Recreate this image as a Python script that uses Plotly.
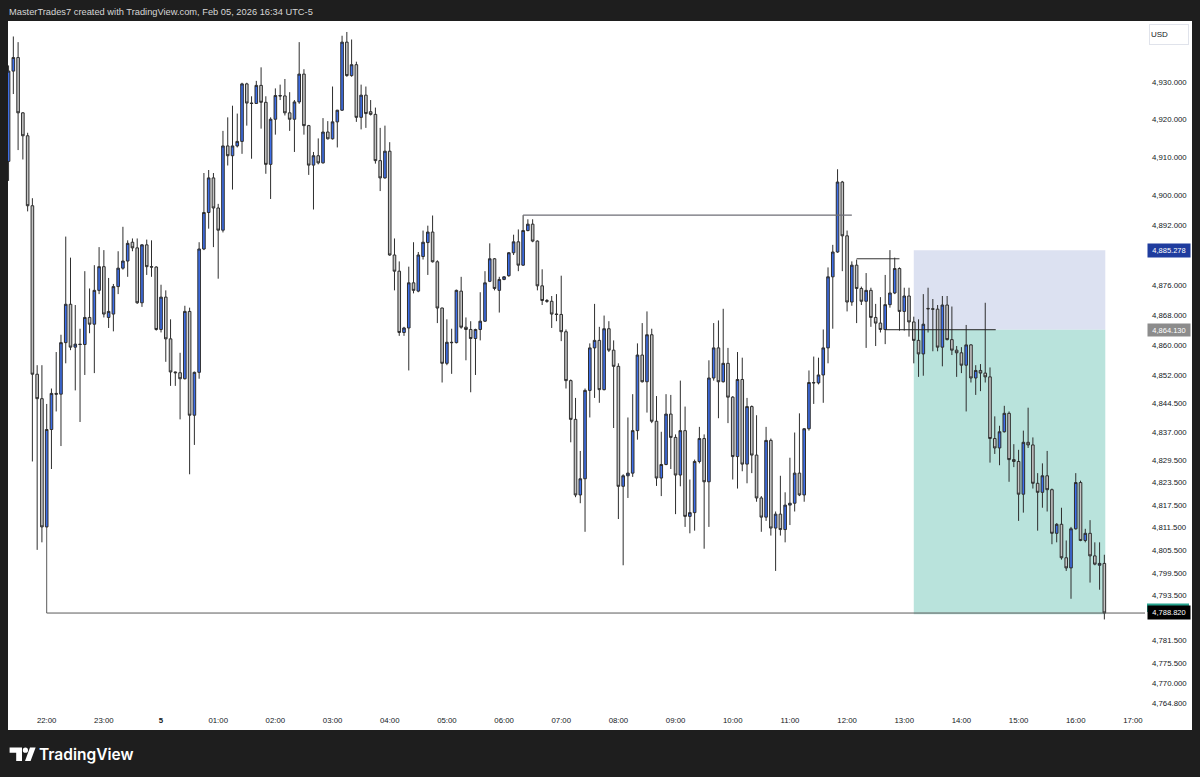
import pandas as pd
import plotly.graph_objects as go

# ---------------- data (5-minute XAUUSD-style candles) ----------------
start_time = "2026-02-04 21:20"
n_candles = 231

opens = [
    4908.9, 4932.9, 4936.5, 4921.8, 4915.7, 4897.1, 4852.3, 4845.8, 4811.7, 4837.6,
    4847.2, 4847.0, 4860.7, 4870.9, 4859.5, 4860.3, 4860.2, 4867.4, 4865.6, 4874.6,
    4880.9, 4867.4, 4868.3, 4875.6, 4880.5, 4882.4, 4887.4, 4885.9, 4871.3, 4886.7,
    4880.9, 4880.8, 4864.2, 4872.8, 4861.7, 4852.9, 4852.7, 4851.1, 4869.0, 4841.4,
    4852.8, 4885.6, 4895.3, 4904.5, 4896.5, 4890.6, 4913.0, 4910.4, 4913.0, 4914.2,
    4929.5, 4924.4, 4924.3, 4929.1, 4924.6, 4908.1, 4920.1, 4926.4, 4926.3, 4921.8,
    4920.1, 4924.7, 4932.1, 4918.4, 4907.9, 4910.4, 4908.5, 4916.7, 4914.9, 4919.4,
    4922.5, 4940.6, 4931.7, 4934.6, 4920.6, 4926.5, 4922.1, 4921.4, 4909.1, 4904.5,
    4911.6, 4884.0, 4879.7, 4863.4, 4864.6, 4876.6, 4874.4, 4883.6, 4887.3, 4890.1,
    4882.2, 4869.9, 4855.2, 4860.8, 4860.7, 4874.4, 4864.8, 4864.2, 4861.8, 4864.2,
    4866.4, 4877.0, 4883.0, 4874.6, 4877.5, 4878.5, 4884.6, 4887.5, 4881.3, 4890.5,
    4892.2, 4887.7, 4875.8, 4871.9, 4871.7, 4868.3, 4868.2, 4863.6, 4850.6, 4840.3,
    4820.2, 4824.5, 4848.0, 4859.3, 4861.3, 4848.2, 4864.4, 4858.7, 4854.4, 4822.5,
    4825.3, 4826.0, 4837.3, 4857.4, 4850.3, 4862.8, 4839.8, 4824.7, 4828.3, 4841.7,
    4835.5, 4825.5, 4837.3, 4814.5, 4815.5, 4829.1, 4835.2, 4823.7, 4851.3, 4859.3,
    4850.3, 4855.2, 4846.2, 4830.4, 4850.9, 4828.4, 4843.7, 4830.8, 4819.4, 4814.3,
    4834.7, 4811.4, 4815.1, 4811.0, 4817.5, 4818.0, 4826.0, 4820.2, 4837.8, 4850.1,
    4850.0, 4852.1, 4859.3, 4878.2, 4884.8, 4903.4, 4889.1, 4871.5, 4881.3, 4875.1,
    4871.7, 4874.6, 4867.4, 4865.9, 4864.2, 4870.8, 4873.9, 4880.4, 4869.0, 4873.1,
    4866.2, 4861.3, 4857.7, 4869.8, 4869.7, 4869.6, 4859.5, 4870.7, 4861.5, 4858.7,
    4858.0, 4854.7, 4860.1, 4851.3, 4853.3, 4852.6, 4851.6, 4835.2, 4832.7, 4837.0,
    4841.9, 4829.6, 4829.1, 4820.4, 4834.2, 4833.5, 4823.3, 4820.9, 4825.3, 4821.6,
    4810.0, 4812.4, 4803.5, 4800.8, 4811.2, 4823.5, 4808.1, 4810.0, 4804.0, 4801.5, 4802.0,
]

highs = [
    4934.4, 4942.1, 4940.6, 4922.0, 4916.5, 4899.1, 4854.7, 4854.7, 4844.4, 4848.5,
    4858.2, 4862.8, 4888.9, 4883.3, 4870.7, 4864.4, 4879.7, 4875.1, 4881.3, 4886.1,
    4885.3, 4877.9, 4876.3, 4885.0, 4891.5, 4887.9, 4888.4, 4888.4, 4886.9, 4888.1,
    4887.9, 4881.0, 4876.1, 4874.6, 4866.9, 4853.0, 4858.0, 4870.5, 4870.0, 4853.0,
    4887.4, 4905.8, 4906.6, 4905.8, 4897.6, 4917.0, 4920.6, 4923.7, 4921.6, 4929.8,
    4929.8, 4926.2, 4930.3, 4933.9, 4926.2, 4920.6, 4928.3, 4929.3, 4930.8, 4927.3,
    4925.2, 4940.6, 4933.4, 4918.6, 4911.4, 4915.0, 4920.4, 4919.6, 4928.8, 4922.6,
    4942.3, 4943.3, 4941.3, 4935.4, 4929.3, 4928.8, 4925.2, 4923.2, 4917.8, 4918.4,
    4914.0, 4888.4, 4882.3, 4864.9, 4880.9, 4887.4, 4884.8, 4890.5, 4891.8, 4894.5,
    4882.6, 4870.0, 4866.9, 4864.4, 4874.8, 4878.2, 4867.4, 4866.4, 4864.4, 4874.1,
    4879.7, 4887.1, 4883.2, 4878.2, 4878.4, 4884.8, 4889.4, 4890.8, 4894.6, 4893.5,
    4893.5, 4887.9, 4880.2, 4872.3, 4873.1, 4873.6, 4878.5, 4864.2, 4850.9, 4846.0,
    4831.9, 4848.5, 4860.5, 4871.0, 4864.9, 4867.9, 4866.4, 4861.3, 4855.2, 4825.7,
    4840.8, 4847.0, 4860.5, 4865.9, 4869.0, 4864.4, 4846.5, 4837.0, 4847.0, 4846.8,
    4836.3, 4850.6, 4843.7, 4824.3, 4829.6, 4838.3, 4836.3, 4856.0, 4865.9, 4866.6,
    4869.7, 4859.3, 4846.5, 4858.2, 4856.7, 4846.0, 4844.0, 4841.4, 4819.9, 4838.3,
    4835.2, 4815.8, 4825.3, 4820.9, 4830.1, 4836.8, 4841.9, 4838.0, 4853.3, 4857.0,
    4856.7, 4864.2, 4880.7, 4886.7, 4906.8, 4903.7, 4890.5, 4882.3, 4882.8, 4875.6,
    4879.2, 4875.3, 4871.0, 4872.8, 4878.7, 4885.3, 4883.3, 4880.7, 4875.3, 4875.3,
    4867.6, 4866.9, 4873.6, 4875.3, 4872.3, 4870.7, 4873.1, 4873.1, 4870.3, 4859.8,
    4859.5, 4865.4, 4860.3, 4854.7, 4855.0, 4871.3, 4854.1, 4841.1, 4838.6, 4843.9,
    4842.4, 4833.7, 4832.2, 4837.3, 4843.4, 4835.5, 4826.0, 4828.6, 4831.9, 4821.9,
    4812.7, 4816.8, 4808.1, 4811.7, 4826.0, 4824.0, 4811.2, 4813.5, 4807.6, 4807.6, 4804.3,
]

lows = [
    4903.7, 4926.8, 4911.9, 4909.4, 4895.6, 4829.1, 4805.6, 4807.6, 4811.5, 4827.1,
    4842.4, 4833.2, 4855.2, 4858.7, 4848.0, 4839.6, 4852.1, 4863.2, 4852.6, 4873.6,
    4867.4, 4864.6, 4863.7, 4873.6, 4880.1, 4878.2, 4885.0, 4871.0, 4870.2, 4878.7,
    4878.2, 4863.9, 4863.4, 4855.6, 4849.2, 4849.2, 4840.3, 4850.9, 4825.7, 4833.5,
    4851.1, 4885.3, 4891.0, 4886.1, 4877.7, 4890.0, 4907.8, 4901.4, 4912.6, 4910.9,
    4918.4, 4909.6, 4924.2, 4917.6, 4905.6, 4898.9, 4916.0, 4925.2, 4921.1, 4917.0,
    4911.4, 4924.2, 4916.0, 4905.3, 4896.1, 4908.1, 4908.3, 4914.7, 4914.7, 4912.6,
    4922.3, 4931.4, 4931.4, 4919.4, 4917.4, 4917.8, 4921.1, 4908.3, 4901.0, 4904.3,
    4883.8, 4874.6, 4862.5, 4862.5, 4853.3, 4873.8, 4874.1, 4882.8, 4878.7, 4882.0,
    4865.9, 4850.1, 4854.7, 4852.4, 4860.5, 4864.4, 4856.0, 4847.5, 4852.1, 4861.3,
    4866.2, 4876.8, 4874.6, 4868.7, 4877.3, 4878.2, 4884.0, 4879.7, 4881.1, 4890.3,
    4887.4, 4874.6, 4870.7, 4871.3, 4864.6, 4866.4, 4861.1, 4848.5, 4834.2, 4819.6,
    4818.0, 4810.4, 4840.8, 4846.0, 4844.7, 4848.0, 4858.2, 4838.0, 4813.8, 4801.5,
    4819.4, 4825.0, 4834.9, 4850.1, 4842.1, 4839.3, 4822.6, 4819.9, 4828.1, 4827.1,
    4815.1, 4822.5, 4811.7, 4810.0, 4810.7, 4828.6, 4805.9, 4811.7, 4850.6, 4840.6,
    4850.1, 4839.3, 4824.3, 4821.9, 4826.5, 4823.3, 4826.0, 4818.4, 4810.4, 4813.3,
    4809.4, 4800.0, 4809.4, 4807.6, 4812.2, 4815.8, 4819.9, 4818.4, 4837.3, 4844.4,
    4849.6, 4844.7, 4855.2, 4864.4, 4884.6, 4879.7, 4869.0, 4870.5, 4865.9, 4870.7,
    4859.3, 4864.9, 4859.8, 4863.4, 4860.3, 4870.0, 4873.6, 4863.9, 4863.9, 4862.3,
    4855.2, 4851.6, 4851.9, 4863.4, 4858.4, 4858.4, 4854.4, 4861.3, 4857.4, 4851.6,
    4852.6, 4842.4, 4850.1, 4846.8, 4847.8, 4850.1, 4828.8, 4831.1, 4828.1, 4836.8,
    4823.7, 4827.6, 4813.3, 4815.5, 4832.7, 4821.9, 4810.7, 4816.8, 4815.8, 4807.1,
    4807.6, 4803.0, 4800.0, 4792.6, 4811.0, 4807.9, 4807.6, 4796.9, 4801.5, 4795.0, 4787.1,
]

closes = [
    4932.9, 4936.5, 4921.8, 4915.7, 4897.1, 4852.3, 4845.8, 4811.7, 4837.6, 4847.2,
    4847.0, 4860.7, 4870.9, 4859.5, 4860.3, 4860.2, 4867.4, 4865.6, 4874.6, 4880.9,
    4868.3, 4869.0, 4875.6, 4880.5, 4882.4, 4887.1, 4885.9, 4871.3, 4886.7, 4880.9,
    4880.8, 4864.2, 4872.8, 4861.7, 4852.9, 4852.7, 4851.1, 4869.0, 4841.4, 4852.8,
    4885.6, 4895.3, 4904.5, 4896.5, 4890.6, 4913.0, 4910.4, 4913.0, 4914.2, 4929.5,
    4924.4, 4924.3, 4929.1, 4924.6, 4908.1, 4920.1, 4926.4, 4926.3, 4921.8, 4920.1,
    4924.7, 4932.1, 4918.4, 4907.9, 4910.4, 4908.5, 4916.7, 4914.9, 4919.4, 4922.5,
    4940.6, 4931.7, 4934.6, 4920.6, 4926.5, 4921.6, 4921.4, 4909.1, 4904.5, 4911.6,
    4884.0, 4879.7, 4863.4, 4864.6, 4876.6, 4874.6, 4884.0, 4887.4, 4890.1, 4882.2,
    4869.9, 4855.2, 4860.8, 4860.7, 4874.6, 4864.8, 4864.2, 4861.8, 4864.2, 4866.4,
    4876.6, 4883.0, 4875.1, 4877.5, 4878.2, 4884.6, 4887.5, 4881.3, 4890.5, 4892.2,
    4887.7, 4875.8, 4871.9, 4871.7, 4868.3, 4868.2, 4863.6, 4850.6, 4840.3, 4820.2,
    4824.5, 4848.0, 4859.3, 4861.3, 4848.2, 4864.4, 4858.7, 4854.4, 4822.5, 4825.3,
    4826.0, 4837.3, 4857.4, 4850.3, 4862.8, 4839.8, 4824.7, 4828.3, 4841.7, 4835.5,
    4825.5, 4837.3, 4814.5, 4815.5, 4829.1, 4835.2, 4823.7, 4851.3, 4859.3, 4850.3,
    4855.2, 4846.2, 4830.4, 4850.9, 4828.4, 4843.7, 4830.8, 4819.4, 4814.3, 4834.7,
    4811.4, 4815.1, 4811.0, 4817.5, 4818.0, 4826.0, 4820.2, 4837.8, 4850.1, 4850.0,
    4852.1, 4859.3, 4878.2, 4884.8, 4903.4, 4889.1, 4871.5, 4881.3, 4875.1, 4871.7,
    4874.6, 4867.4, 4865.9, 4864.2, 4870.8, 4873.9, 4880.4, 4869.0, 4873.1, 4866.2,
    4861.3, 4857.7, 4865.6, 4869.7, 4869.6, 4859.5, 4870.7, 4861.5, 4858.7, 4858.0,
    4854.7, 4860.1, 4851.3, 4853.3, 4852.6, 4851.6, 4835.2, 4832.7, 4837.0, 4841.9,
    4829.6, 4829.1, 4820.4, 4834.2, 4833.5, 4823.3, 4820.9, 4825.3, 4821.6, 4810.0,
    4812.4, 4803.5, 4800.8, 4811.2, 4823.5, 4808.1, 4810.0, 4804.0, 4801.8, 4802.0, 4788.82,
]

# price-axis tick labels
y_ticks = [4930, 4920, 4910, 4900, 4892, 4876, 4868, 4860, 4852, 4844.5, 4837,
           4829.5, 4823.5, 4817.5, 4811.5, 4805.5, 4799.5, 4793.5, 4781.5,
           4775.5, 4770, 4764.8]
x_tick_labels = ["22:00", "23:00", "<b>5</b>", "01:00", "02:00", "03:00", "04:00",
                 "05:00", "06:00", "07:00", "08:00", "09:00", "10:00", "11:00",
                 "12:00", "13:00", "14:00", "15:00", "16:00", "17:00"]

# short-position tool
pos_start, pos_end = "2026-02-05 13:10", "2026-02-05 16:31"
stop_price = 4885.278
entry_price = 4864.130
target_price = 4788.5
last_price = closes[-1]

# drawn lines
level_low_start = 4811.7      # vertical leg of bottom line
level_low = 4788.8
level_high = 4894.6
level_mid = 4883.0

times = pd.date_range(start_time, periods=n_candles, freq="5min")
hour_ticks = pd.date_range("2026-02-04 22:00", "2026-02-05 17:00", freq="h")

# ---------------- layout geometry (pixels) ----------------
W, H = 1200, 777
L, R, T, B = 8, 1145, 21, 710


def px(x):
    return (x - L) / (R - L)


def py(y):
    return (B - y) / (B - T)


x_range = ["2026-02-04 21:19:24", "2026-02-05 17:12:40"]
y_range = [4763.02, 4946.22]

fig = go.Figure()

fig.add_trace(go.Candlestick(
    x=times, open=opens, high=highs, low=lows, close=closes,
    increasing=dict(fillcolor="#3d6ee8", line=dict(color="#2e2e2e", width=1)),
    decreasing=dict(fillcolor="#c4c4c4", line=dict(color="#2e2e2e", width=1)),
    whiskerwidth=0, hoverinfo="skip", showlegend=False,
))

shapes = []
# white chart panel (incl. axes areas)
shapes.append(dict(type="rect", xref="paper", yref="paper", layer="below",
                   x0=px(8), x1=px(1192), y0=py(730), y1=py(21),
                   fillcolor="white", line=dict(width=0)))
# position tool
shapes.append(dict(type="rect", xref="x", yref="y", layer="below",
                   x0=pos_start, x1=pos_end, y0=entry_price, y1=stop_price,
                   fillcolor="rgb(220,225,241)", line=dict(width=0)))
shapes.append(dict(type="rect", xref="x", yref="y", layer="below",
                   x0=pos_start, x1=pos_end, y0=target_price, y1=entry_price,
                   fillcolor="rgb(185,227,220)", line=dict(width=0)))
# bottom level line
shapes.append(dict(type="line", xref="x", yref="y", layer="above",
                   x0="2026-02-04 22:00", x1="2026-02-04 22:00",
                   y0=level_low_start, y1=level_low,
                   line=dict(color="#5a5a5a", width=1)))
shapes.append(dict(type="line", xref="x", yref="y", layer="above",
                   x0="2026-02-04 22:00", x1=x_range[1],
                   y0=level_low, y1=level_low,
                   line=dict(color="#5a5a5a", width=1)))
# high level line
shapes.append(dict(type="line", xref="x", yref="y", layer="above",
                   x0="2026-02-05 06:20", x1="2026-02-05 12:05",
                   y0=level_high, y1=level_high,
                   line=dict(color="#6e6e76", width=1.4)))
# mid level line
shapes.append(dict(type="line", xref="x", yref="y", layer="above",
                   x0="2026-02-05 12:10", x1="2026-02-05 12:55",
                   y0=level_mid, y1=level_mid,
                   line=dict(color="#333333", width=1)))
# entry level line
shapes.append(dict(type="line", xref="x", yref="y", layer="above",
                   x0="2026-02-05 12:40", x1="2026-02-05 14:36",
                   y0=entry_price, y1=entry_price,
                   line=dict(color="#222222", width=1)))
# target-price axis tag, mostly hidden behind the last-price tag
shapes.append(dict(type="rect", xref="paper", yref="paper", layer="above",
                   x0=px(1147), x1=px(1189), y0=py(612), y1=py(603.5),
                   fillcolor="#26a48f", line=dict(width=0)))

# TradingView logo glyph (footer)
def pth(points):
    s = "M " + " L ".join(f"{px(a):.5f},{py(b):.5f}" for a, b in points) + " Z"
    return s

shapes.append(dict(type="path", xref="paper", yref="paper",
                   path=pth([(9.6, 747.5), (22.0, 747.5), (22.0, 761.0),
                             (16.2, 761.0), (16.2, 752.8), (9.6, 752.8)]),
                   fillcolor="white", line=dict(width=0)))
shapes.append(dict(type="circle", xref="paper", yref="paper",
                   x0=px(22.8), x1=px(28.0), y0=py(752.8), y1=py(747.6),
                   fillcolor="white", line=dict(width=0)))
shapes.append(dict(type="path", xref="paper", yref="paper",
                   path=pth([(25.0, 761.0), (30.6, 761.0), (35.6, 747.5), (30.0, 747.5)]),
                   fillcolor="white", line=dict(width=0)))

annotations = []
lab_font = dict(family="Liberation Sans, Arial, sans-serif", size=7.5, color="white")
# axis price labels with backgrounds
annotations.append(dict(xref="paper", yref="y", x=px(1147), y=last_price,
                        xanchor="left", yanchor="middle", text=f"{last_price:,.3f}",
                        showarrow=False, bgcolor="#000000", width=40, height=11,
                        borderpad=1, font=lab_font))
annotations.append(dict(xref="paper", yref="y", x=px(1147), y=stop_price,
                        xanchor="left", yanchor="middle", text=f"{stop_price:,.3f}",
                        showarrow=False, bgcolor="#1f3c9e", width=40, height=11,
                        borderpad=1, font=lab_font))
annotations.append(dict(xref="paper", yref="y", x=px(1147), y=entry_price,
                        xanchor="left", yanchor="middle", text=f"{entry_price:,.3f}",
                        showarrow=False, bgcolor="#8c8c8c", width=40, height=10,
                        borderpad=1, font=lab_font))
# currency box
annotations.append(dict(xref="paper", yref="paper", x=px(1149), y=py(34),
                        xanchor="left", yanchor="middle", text="USD", showarrow=False,
                        bgcolor="white", bordercolor="#e0e3eb", borderwidth=1,
                        width=36, height=17, align="left",
                        font=dict(family="Liberation Sans, Arial, sans-serif", size=8,
                                  color="#131722")))
# header
annotations.append(dict(xref="paper", yref="paper", x=px(6.5), y=py(11.7),
                        xanchor="left", yanchor="middle", showarrow=False,
                        text="MasterTrades7 created with TradingView.com, Feb 05, 2026 16:34 UTC-5",
                        font=dict(family="Liberation Sans, Arial, sans-serif", size=9.3,
                                  color="#d6d6d6")))
# footer brand text
annotations.append(dict(xref="paper", yref="paper", x=px(36.5), y=py(754.5),
                        xanchor="left", yanchor="middle", showarrow=False,
                        text="TradingView",
                        font=dict(family="Inter, Roboto, sans-serif", size=15.5,
                                  color="white", weight=600)))

axis_font = dict(family="Liberation Sans, Arial, sans-serif", size=7.8, color="#131722")

fig.update_layout(
    width=W, height=H, autosize=False,
    margin=dict(l=L, r=W - R, t=T, b=H - B, pad=0),
    paper_bgcolor="#1e1e1e", plot_bgcolor="white",
    showlegend=False, boxgap=0.22, dragmode=False,
    shapes=shapes, annotations=annotations,
    xaxis=dict(type="date", range=x_range, rangeslider=dict(visible=False),
               showgrid=False, zeroline=False, showline=False, ticks="",
               tickvals=list(hour_ticks), ticktext=x_tick_labels,
               tickfont=axis_font, ticklabelstandoff=4, fixedrange=True),
    yaxis=dict(side="right", range=y_range, showgrid=False, zeroline=False,
               showline=False, ticks="", tickvals=y_ticks,
               ticktext=[f"{v:,.3f}" for v in y_ticks], tickfont=axis_font,
               ticklabelstandoff=6, fixedrange=True),
)

fig.write_html("out.html", config={"displayModeBar": False},
               post_script="document.body.style.margin='0';document.body.style.overflow='hidden';")
